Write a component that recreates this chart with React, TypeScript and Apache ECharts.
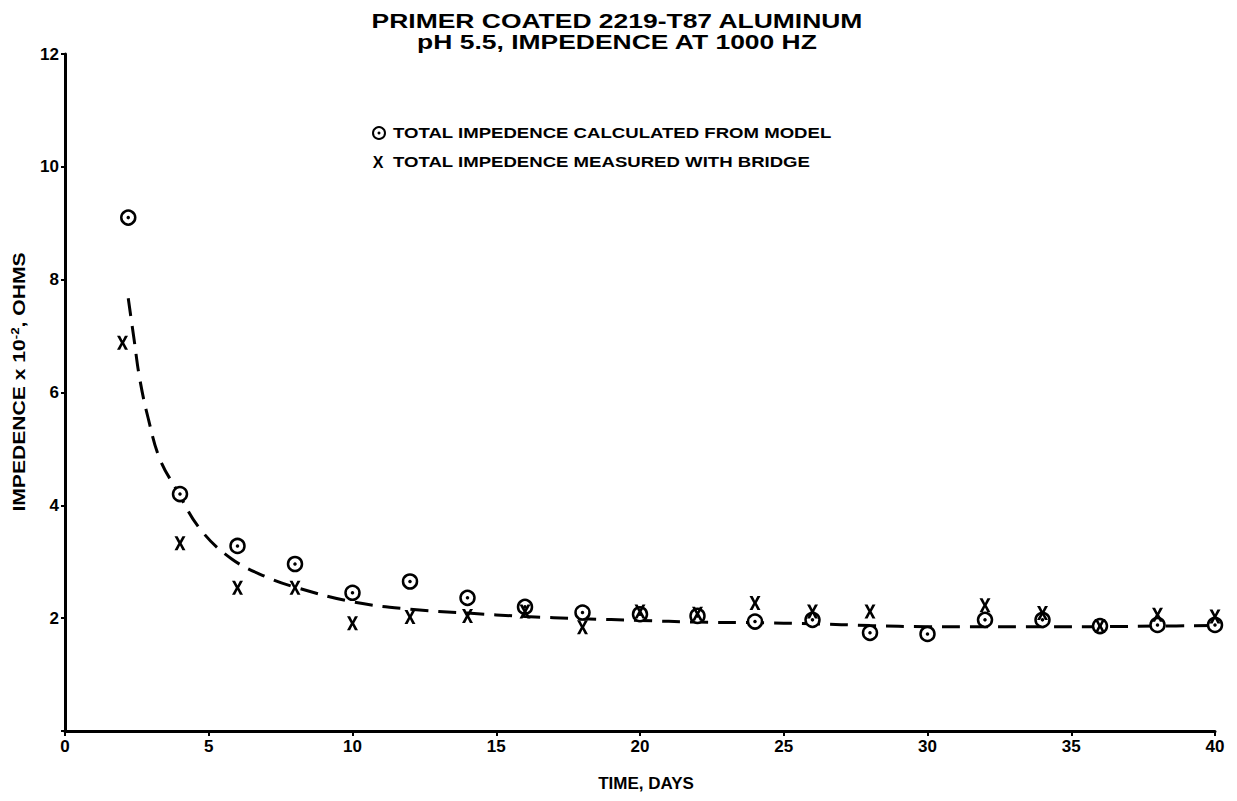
import React, { useEffect, useRef } from "react";
import * as echarts from "echarts";

const calcDays = [2.2, 4, 6, 8, 10, 12, 14, 16, 18, 20, 22, 24, 26, 28, 30, 32, 34, 36, 38, 40];
const calcValues = [9.1, 4.2, 3.28, 2.96, 2.45, 2.65, 2.36, 2.2, 2.1, 2.07, 2.04, 1.94, 1.97, 1.74, 1.72, 1.97, 1.97, 1.86, 1.88, 1.88];

const measDays = [2, 4, 6, 8, 10, 12, 14, 16, 18, 20, 22, 24, 26, 28, 32, 34, 36, 38, 40];
const measValues = [6.88, 3.33, 2.54, 2.54, 1.91, 2.02, 2.04, 2.12, 1.84, 2.12, 2.08, 2.27, 2.12, 2.12, 2.23, 2.09, 1.86, 2.06, 2.03];

const fitDays = [2.2, 2.4, 2.6, 2.9, 3.3, 3.9, 4.7, 5.8, 7, 8, 10, 12, 14, 16, 18, 20, 22, 24, 26, 28, 30, 32, 34, 36, 38, 40];
const fitValues = [7.67, 6.95, 6.24, 5.53, 4.82, 4.26, 3.58, 3.05, 2.73, 2.55, 2.29, 2.16, 2.09, 2.03, 1.99, 1.96, 1.93, 1.92, 1.9, 1.87, 1.85, 1.85, 1.85, 1.85, 1.86, 1.87];

const titleLines = ["PRIMER COATED 2219-T87 ALUMINUM", "pH 5.5, IMPEDENCE AT 1000 HZ"];
const legendCalc = "TOTAL IMPEDENCE CALCULATED FROM MODEL";
const legendMeas = "TOTAL IMPEDENCE MEASURED WITH BRIDGE";
const xName = "TIME, DAYS";
const yName = "IMPEDENCE x 10{sup|-2}, OHMS";

const FONT = "'Liberation Sans', Arial, Helvetica, sans-serif";
const X_PATH = "path://M0,0 L2.8,0 L5,4.4 L7.2,0 L10,0 L6.5,6.5 L10,13 L7.2,13 L5,8.6 L2.8,13 L0,13 L3.5,6.5 Z";

export default function App() {
  const ref = useRef<HTMLDivElement>(null);
  useEffect(() => {
    if (!ref.current) return;
    const chart = echarts.init(ref.current, null, { renderer: "svg" });
    const pair = (xs: number[], ys: number[]) => xs.map((x, i) => [x, ys[i]]);
    chart.setOption({
      animation: false,
      backgroundColor: "#ffffff",
      grid: { left: 65, right: 22, top: 54, bottom: 70, containLabel: false },
      xAxis: {
        type: "value",
        min: 0,
        max: 40,
        interval: 5,
        name: xName,
        nameLocation: "middle",
        nameGap: 44,
        nameTextStyle: { color: "#000", fontFamily: FONT, fontWeight: "bold", fontSize: 17, padding: [0, 0, 0, 12] },
        axisLine: { show: true, lineStyle: { color: "#000", width: 3 } },
        axisTick: { show: true, length: 5, lineStyle: { color: "#000", width: 2 } },
        axisLabel: { color: "#000", fontFamily: FONT, fontWeight: "bold", fontSize: 17, margin: 7 },
        splitLine: { show: false },
      },
      yAxis: {
        type: "value",
        min: 0,
        max: 12,
        interval: 2,
        axisLine: { show: true, lineStyle: { color: "#000", width: 3 } },
        axisTick: { show: true, length: 4, lineStyle: { color: "#000", width: 2 } },
        axisLabel: {
          color: "#000",
          fontFamily: FONT,
          fontWeight: "bold",
          fontSize: 17,
          margin: 6,
          formatter: (v: number) => (v === 0 ? "" : String(v)),
        },
        splitLine: { show: false },
      },
      series: [
        {
          type: "line",
          data: pair(fitDays, fitValues),
          smooth: 0.4,
          showSymbol: false,
          lineStyle: { color: "#000", width: 3, type: [18, 10] },
          z: 1,
        },
        {
          type: "scatter",
          data: pair(calcDays, calcValues),
          symbol: "circle",
          symbolSize: 14,
          itemStyle: { color: "#fff", borderColor: "#000", borderWidth: 2.5, opacity: 1 },
          z: 2,
        },
        {
          type: "scatter",
          data: pair(calcDays, calcValues),
          symbol: "circle",
          symbolSize: 3.5,
          itemStyle: { color: "#000", opacity: 1 },
          z: 3,
        },
        {
          type: "scatter",
          data: pair(measDays, measValues),
          symbol: X_PATH,
          symbolSize: [11, 14],
          itemStyle: { color: "#000", opacity: 1 },
          z: 4,
        },
      ],
      graphic: [
        {
          type: "text",
          x: 617,
          y: 10,
          scaleX: 1.26,
          style: {
            text: titleLines.join("\n"),
            fill: "#000",
            font: `bold 21px ${FONT}`,
            lineHeight: 21,
            textAlign: "center",
            textVerticalAlign: "top",
          },
        },
        { type: "circle", shape: { cx: 379, cy: 133, r: 6 }, style: { fill: "#fff", stroke: "#000", lineWidth: 2 } },
        { type: "circle", shape: { cx: 379, cy: 133, r: 1.5 }, style: { fill: "#000" } },
        {
          type: "text",
          x: 393,
          y: 133,
          scaleX: 1.24,
          style: { text: legendCalc, fill: "#000", font: `bold 15px ${FONT}`, textVerticalAlign: "middle" },
        },
        {
          type: "text",
          x: 378,
          y: 162,
          style: { text: "X", fill: "#000", font: `bold 16px ${FONT}`, textAlign: "center", textVerticalAlign: "middle" },
        },
        {
          type: "text",
          x: 393,
          y: 162,
          scaleX: 1.24,
          style: { text: legendMeas, fill: "#000", font: `bold 15px ${FONT}`, textVerticalAlign: "middle" },
        },
        {
          type: "text",
          x: 19,
          y: 382,
          rotation: Math.PI / 2,
          scaleX: 1.32,
          style: {
            text: yName,
            fill: "#000",
            font: `bold 16px ${FONT}`,
            textAlign: "center",
            textVerticalAlign: "middle",
            rich: {
              sup: { fontSize: 10, fontWeight: "bold", fontFamily: FONT, fill: "#000", padding: [0, 0, 8, 0] },
            },
          },
        },
      ],
    });
    return () => chart.dispose();
  }, []);
  return <div ref={ref} style={{ position: "fixed", left: 0, top: 0, width: 1237, height: 801 }} />;
}
